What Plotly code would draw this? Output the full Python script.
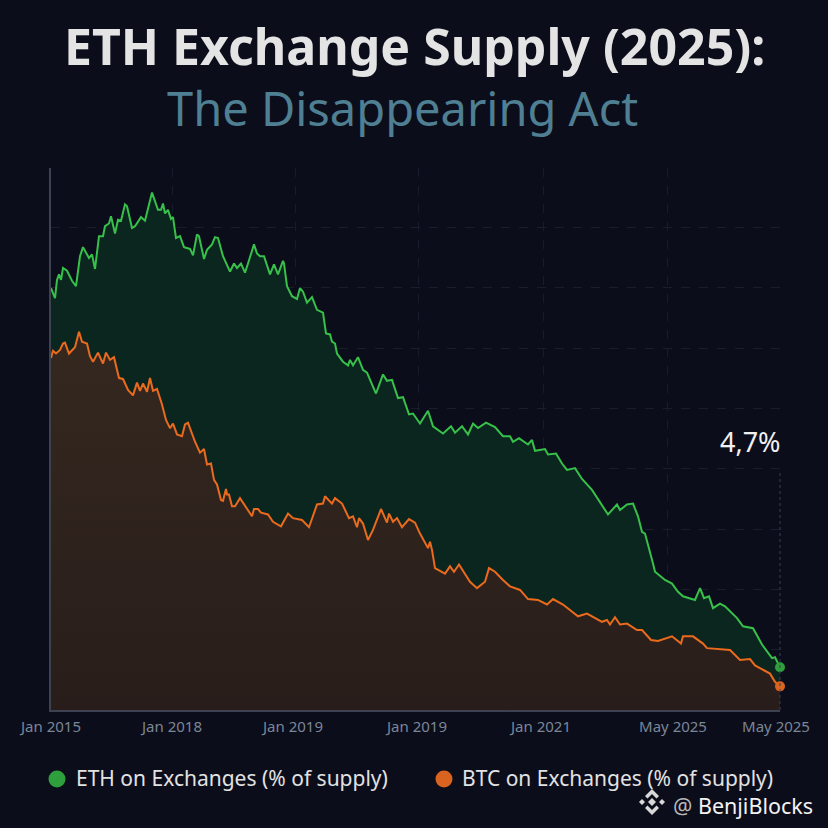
import plotly.graph_objects as go

# x = weeks-ish position along the axis (no scale shown in the picture), y = % of supply
eth_x = [0, 4, 6, 8, 10, 12, 16, 21, 25, 29, 32, 36, 38, 41, 44, 48, 52, 54, 58, 60, 64, 67, 70, 74, 76, 81, 84, 90, 94, 101,
         107, 110, 112, 114, 117, 120, 122, 125, 129, 133, 139, 142, 146, 148, 153, 156, 161, 164, 167, 172, 179, 183, 186, 190, 194, 197, 200, 203, 206, 209,
         213, 219, 223, 227, 232, 233, 236, 241, 246, 249, 252, 256, 261, 266, 272, 275, 279, 281, 284, 286, 292, 297, 299, 302, 307, 312, 316, 325, 332, 336,
         341, 347, 352, 358, 362, 369, 377, 382, 392, 400, 404, 411, 417, 422, 427, 435, 444, 452, 459, 462, 468, 477, 481, 484, 494, 497, 505, 511, 516, 524,
         531, 541, 557, 566, 569, 576, 582, 587, 591, 594, 602, 604, 614, 621, 627, 632, 644, 649, 653, 658, 662, 669, 674, 686, 692, 702, 711, 721, 724, 729]
eth_y = [46.4, 45.3, 47.3, 47.9, 47.3, 48.6, 48.3, 47.2, 46.6, 49.9, 50.9, 50.2, 49.7, 50.1, 48.5, 52.1, 52.1, 53.2, 53.5, 54.3, 52.4, 53.9, 53.8, 55.6, 55.4, 53.0, 53.2, 54.2, 53.8, 56.9,
         55.0, 55.0, 55.7, 54.6, 55.0, 54.0, 54.2, 51.9, 52.1, 50.9, 50.7, 50.0, 52.3, 52.1, 49.6, 50.6, 51.2, 52.0, 51.9, 49.9, 48.2, 49.1, 48.6, 49.1, 48.1, 49.1, 50.1, 51.2, 50.2, 49.9,
         49.9, 47.9, 49.0, 47.9, 49.4, 49.1, 46.6, 45.5, 45.2, 46.4, 46.0, 44.8, 45.4, 44.0, 43.7, 41.4, 41.3, 40.5, 40.3, 39.2, 38.3, 37.9, 38.5, 37.9, 38.8, 37.4, 37.1, 34.8, 36.9, 36.2,
         36.3, 34.3, 34.4, 32.5, 32.6, 31.5, 32.9, 31.2, 30.4, 31.2, 30.5, 31.2, 30.3, 31.5, 31.0, 31.6, 31.1, 30.1, 30.1, 29.5, 29.9, 29.2, 29.7, 28.5, 28.7, 28.1, 28.2, 27.1, 26.4, 26.6,
         25.4, 24.2, 21.5, 22.6, 22.0, 22.6, 22.7, 21.3, 19.6, 19.4, 16.1, 15.2, 14.3, 13.9, 13.0, 12.5, 12.1, 13.4, 12.3, 12.5, 11.2, 11.7, 11.4, 10.1, 9.2, 9.0, 7.2, 5.7, 5.8, 4.7]

btc_x = [0, 2, 5, 9, 12, 14, 18, 24, 28, 31, 36, 39, 42, 47, 52, 55, 59, 63, 68, 72, 77, 82, 86, 89, 92, 96, 99, 102, 106, 111,
         115, 119, 122, 126, 131, 134, 137, 144, 149, 153, 156, 160, 163, 166, 170, 172, 175, 176, 178, 181, 184, 189, 201, 203, 207, 210, 217, 222, 230, 237,
         242, 251, 258, 261, 266, 272, 274, 281, 284, 291, 298, 302, 306, 308, 312, 317, 322, 330, 336, 338, 342, 346, 351, 358, 364, 369, 377, 379, 381, 384,
         394, 399, 403, 408, 419, 426, 434, 438, 444, 452, 459, 469, 477, 487, 496, 502, 512, 527, 536, 551, 556, 559, 564, 569, 576, 586, 591, 600, 607, 621,
         630, 632, 642, 652, 656, 679, 689, 699, 704, 719, 724, 729]
btc_y = [38.7, 39.5, 39.2, 39.6, 40.3, 40.4, 39.2, 39.9, 41.6, 40.5, 40.3, 38.9, 38.3, 39.3, 38.1, 39.3, 38.5, 38.8, 36.5, 36.4, 35.2, 34.6, 36.0, 35.1, 35.9, 35.0, 36.5, 35.1, 35.3, 33.6,
         31.9, 31.0, 31.5, 30.3, 30.1, 31.4, 31.6, 29.5, 28.3, 28.7, 27.0, 27.1, 25.3, 24.8, 23.1, 23.0, 24.3, 23.7, 23.7, 22.4, 22.4, 23.3, 21.3, 22.1, 22.1, 21.7, 21.5, 20.7, 20.2, 21.6,
         21.1, 20.9, 20.1, 21.1, 22.6, 22.7, 23.5, 22.7, 23.3, 22.7, 21.1, 21.3, 20.1, 21.1, 20.5, 18.7, 19.8, 22.1, 20.6, 21.6, 20.7, 21.1, 20.1, 21.0, 20.6, 19.4, 17.8, 18.5, 17.6, 15.6,
         15.0, 15.8, 15.2, 16.0, 14.1, 13.4, 14.1, 15.6, 15.2, 14.3, 13.6, 13.2, 12.2, 12.1, 11.6, 12.2, 11.6, 10.3, 10.6, 9.7, 9.9, 9.4, 10.2, 9.4, 9.5, 8.8, 8.8, 7.7, 7.6, 8.1,
         7.3, 8.1, 8.1, 7.3, 6.8, 6.6, 5.5, 5.6, 4.9, 4.0, 3.1, 2.6]

tick_pos = [0, 121, 242, 366, 490, 622, 725]
tick_labels = ["Jan 2015", "Jan 2018", "Jan 2019", "Jan 2019", "Jan 2021", "May 2025", "May 2025"]
grid_x = [121, 244, 367, 492, 616]
grid_y = [6.63, 13.26, 19.89, 26.52, 33.15, 39.78, 46.41, 53.04, 59.6]

BG = "#0c0d1b"
FONT = "Noto Sans"
ETH_DOT = "#2f9e3d"
BTC_DOT = "#d9641f"

# plot area in page pixels
L, R, T, B = 51, 780, 168, 710


def px(x):
    return (x - L) / (R - L)


def py(y):
    return (B - y) / (B - T)


def label(text, x, y, size, color, xanchor="center"):
    return dict(text=text, x=px(x), y=py(y), xref="paper", yref="paper", showarrow=False,
                xanchor=xanchor, yanchor="middle", font=dict(family=FONT, size=size, color=color))


def dot(cx, cy, r, color):
    return dict(type="circle", xref="paper", yref="paper", x0=px(cx - r), x1=px(cx + r),
                y0=py(cy + r), y1=py(cy - r), fillcolor=color, line_width=0)


def logo_part(path):
    return dict(type="path", xref="paper", yref="paper", path=path, fillcolor="#d8d8d8", line_width=0)


def diamond(cx, cy, r):
    return (f"M {px(cx)} {py(cy - r)} L {px(cx + r)} {py(cy)} "
            f"L {px(cx)} {py(cy + r)} L {px(cx - r)} {py(cy)} Z")


def chevron(cx, cy, r, t, up):
    s = -1 if up else 1
    return (f"M {px(cx)} {py(cy + s * r)} L {px(cx + r)} {py(cy)} L {px(cx + r - t)} {py(cy - s * t)} "
            f"L {px(cx)} {py(cy + s * (r - 2 * t))} L {px(cx - r + t)} {py(cy - s * t)} L {px(cx - r)} {py(cy)} Z")


fig = go.Figure()
fig.add_trace(go.Scatter(x=eth_x, y=eth_y, mode="lines", showlegend=False, hoverinfo="skip",
                         line=dict(color="#37c04a", width=2), fill="tozeroy", fillcolor="rgba(12,40,31,0.95)"))
fig.add_trace(go.Scatter(x=btc_x, y=btc_y, mode="lines", showlegend=False, hoverinfo="skip",
                         line=dict(color="#ea6a1e", width=2), fill="tozeroy",
                         fillgradient=dict(type="vertical",
                                           colorscale=[[0, "rgba(42,29,27,0.97)"], [1, "rgba(54,40,31,0.97)"]])))
fig.add_trace(go.Scatter(x=[eth_x[-1]], y=[eth_y[-1]], mode="markers", showlegend=False, cliponaxis=False,
                         marker=dict(color=ETH_DOT, size=10)))
fig.add_trace(go.Scatter(x=[btc_x[-1]], y=[btc_y[-1]], mode="markers", showlegend=False, cliponaxis=False,
                         marker=dict(color=BTC_DOT, size=10)))

fig.update_xaxes(range=[0, 729], tickvals=tick_pos, ticktext=tick_labels, showgrid=False, zeroline=False,
                 tickfont=dict(family=FONT, size=15, color="#7a8797"), ticks="", ticklabelstandoff=2,
                 showline=True, linecolor="#3c4250", linewidth=1.5, automargin=False,
                 minor=dict(tickvals=grid_x, showgrid=True, griddash="dash", gridcolor="#181b2a", gridwidth=1, ticks=""))
fig.update_yaxes(range=[0, 59.6], tickvals=grid_y, showticklabels=False, ticks="", zeroline=False,
                 showgrid=True, griddash="dash", gridcolor="#1a1d2c", gridwidth=1,
                 showline=True, linecolor="#3c4250", linewidth=1.5, automargin=False)

fig.update_layout(
    width=828, height=828, autosize=False,
    paper_bgcolor=BG, plot_bgcolor=BG,
    margin=dict(l=L, r=828 - R, t=T, b=828 - B),
    font=dict(family=FONT),
    showlegend=False,
    annotations=[
        label("<b>ETH Exchange Supply (2025):</b>", 414, 46, 50, "#e4e4e4"),
        label("The Disappearing Act", 402, 108, 47, "#4f7f92"),
        label("4,7%", 750, 441, 27, "#f0f0f0"),
        label("ETH on Exchanges (% of supply)", 74, 778, 21, "#e2e2e2", "left"),
        label("BTC on Exchanges (% of supply)", 460, 778, 21, "#e2e2e2", "left"),
        label("<span style='color:#b8b8b8'>@</span> BenjiBlocks", 671, 805, 21.5, "#f2f2f2", "left"),
    ],
    shapes=[
        dict(type="line", xref="paper", yref="paper", x0=1, x1=1, y0=0, y1=py(470),
             line=dict(color="#3a3f50", width=1, dash="dot")),
        dot(57, 779, 8.5, ETH_DOT),
        dot(444, 779, 8.5, BTC_DOT),
        logo_part(diamond(652, 802, 4)),
        logo_part(diamond(642, 802, 3)),
        logo_part(diamond(662, 802, 3)),
        logo_part(chevron(652, 796, 7, 2.5, True)),
        logo_part(chevron(652, 808, 7, 2.5, False)),
    ],
)

fig.write_html("out.html", config=dict(displayModeBar=False),
               post_script="document.body.style.margin='0';document.body.style.background='#0c0d1b';")
